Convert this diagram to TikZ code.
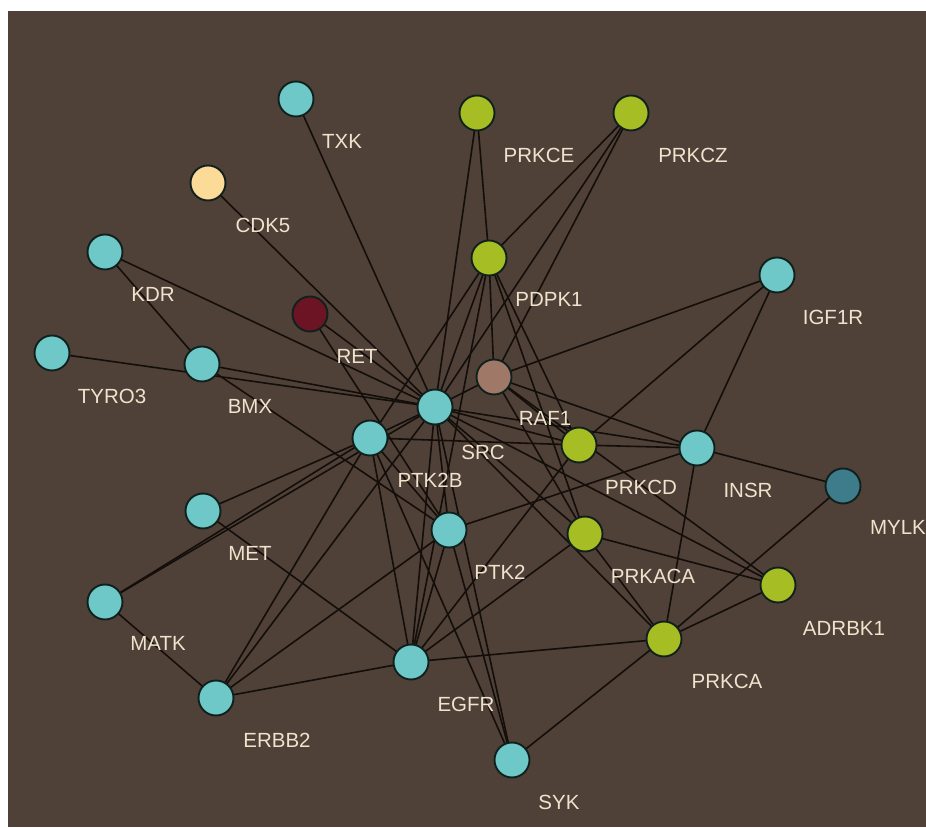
\documentclass[tikz,border=0pt]{standalone}
\usepackage{fontspec}
\setmainfont{Liberation Sans}
\pgfdeclarelayer{bg}
\pgfdeclarelayer{edges}
\pgfsetlayers{bg,edges,main}
\definecolor{bgbrown}{RGB}{79,64,56}
\definecolor{cyanN}{RGB}{110,200,200}
\definecolor{greenN}{RGB}{166,190,36}
\definecolor{creamN}{RGB}{252,218,152}
\definecolor{retN}{RGB}{108,20,36}
\definecolor{rafN}{RGB}{160,120,104}
\definecolor{mylkN}{RGB}{62,124,140}
\definecolor{outlineN}{RGB}{16,32,28}
\definecolor{edgeC}{RGB}{20,14,10}
\definecolor{labelC}{RGB}{238,228,205}
\tikzset{
  gnode/.style={circle, draw=outlineN, line width=1.9pt, minimum size=35pt, inner sep=0pt},
  cy/.style={gnode, fill=cyanN},
  gr/.style={gnode, fill=greenN},
  cr/.style={gnode, fill=creamN},
  rt/.style={gnode, fill=retN},
  rf/.style={gnode, fill=rafN},
  my/.style={gnode, fill=mylkN},
  edge/.style={draw=edgeC, line width=1.6pt},
  lbl/.style={text=labelC, font=\fontsize{20.5}{24}\selectfont, inner sep=0pt, anchor=center}
}
\begin{document}
\begin{tikzpicture}[x=1pt,y=1pt]
\useasboundingbox (0,0) rectangle (926,827);
\begin{pgfonlayer}{bg}
\fill[bgbrown] (8,0) rectangle (926,816);
\end{pgfonlayer}
% nodes
\node[cy] (TXK) at (296,728) {};
\node[cr] (CDK5) at (208,644) {};
\node[cy] (KDR) at (105,575) {};
\node[rt] (RET) at (310,513) {};
\node[cy] (TYRO3) at (52,474) {};
\node[cy] (BMX) at (202,463) {};
\node[cy] (SRC) at (435,420) {};
\node[gr] (PRKCE) at (477,714) {};
\node[gr] (PRKCZ) at (631,714) {};
\node[gr] (PDPK1) at (489,569) {};
\node[cy] (IGF1R) at (777,552) {};
\node[rf] (RAF1) at (494,450) {};
\node[cy] (PTK2B) at (370,389) {};
\node[cy] (MET) at (203,316) {};
\node[cy] (MATK) at (105,225) {};
\node[cy] (ERBB2) at (216,129) {};
\node[cy] (EGFR) at (411,165) {};
\node[cy] (PTK2) at (449,297) {};
\node[gr] (PRKCD) at (579,382) {};
\node[cy] (INSR) at (697,379) {};
\node[my] (MYLK) at (843,341) {};
\node[gr] (PRKACA) at (585,293) {};
\node[gr] (ADRBK1) at (778,242) {};
\node[gr] (PRKCA) at (664,188) {};
\node[cy] (SYK) at (512,67) {};
% edges
\begin{pgfonlayer}{edges}
\foreach \t in {TXK,CDK5,KDR,RET,TYRO3,BMX,PTK2B,PRKCE,PRKCZ,PDPK1,RAF1,PRKCD,INSR,PTK2,EGFR,SYK,MATK,ERBB2,PRKACA,PRKCA,ADRBK1}
  \draw[edge] (SRC.center) -- (\t.center);
\draw[edge] (KDR.center) -- (BMX.center);
\draw[edge] (BMX.center) -- (PTK2.center);
\draw[edge] (RET.center) -- (PTK2.center);
\draw[edge] (MET.center) -- (PTK2B.center);
\draw[edge] (MET.center) -- (EGFR.center);
\draw[edge] (MATK.center) -- (PTK2B.center);
\draw[edge] (MATK.center) -- (ERBB2.center);
\draw[edge] (ERBB2.center) -- (PTK2B.center);
\draw[edge] (ERBB2.center) -- (PTK2.center);
\draw[edge] (ERBB2.center) -- (EGFR.center);
\draw[edge] (PTK2B.center) -- (EGFR.center);
\draw[edge] (PTK2B.center) -- (PTK2.center);
\draw[edge] (PTK2B.center) -- (SYK.center);
\draw[edge] (PTK2B.center) -- (PDPK1.center);
\draw[edge] (PTK2B.center) -- (PRKCD.center);
\draw[edge] (PRKCE.center) -- (PDPK1.center);
\draw[edge] (PRKCZ.center) -- (PDPK1.center);
\draw[edge] (PRKCZ.center) -- (RAF1.center);
\draw[edge] (PDPK1.center) -- (RAF1.center);
\draw[edge] (PDPK1.center) -- (PRKACA.center);
\draw[edge] (PDPK1.center) -- (PRKCD.center);
\draw[edge] (PDPK1.center) -- (EGFR.center);
\draw[edge] (IGF1R.center) -- (RAF1.center);
\draw[edge] (IGF1R.center) -- (PRKCD.center);
\draw[edge] (IGF1R.center) -- (INSR.center);
\draw[edge] (RAF1.center) -- (INSR.center);
\draw[edge] (RAF1.center) -- (PRKCD.center);
\draw[edge] (RAF1.center) -- (PRKACA.center);
\draw[edge] (RAF1.center) -- (ADRBK1.center);
\draw[edge] (PRKCD.center) -- (INSR.center);
\draw[edge] (PRKCD.center) -- (EGFR.center);
\draw[edge] (INSR.center) -- (MYLK.center);
\draw[edge] (INSR.center) -- (PRKCA.center);
\draw[edge] (PTK2.center) -- (INSR.center);
\draw[edge] (PTK2.center) -- (EGFR.center);
\draw[edge] (PTK2.center) -- (SYK.center);
\draw[edge] (PRKACA.center) -- (EGFR.center);
\draw[edge] (PRKACA.center) -- (ADRBK1.center);
\draw[edge] (PRKACA.center) -- (PRKCA.center);
\draw[edge] (PRKCA.center) -- (EGFR.center);
\draw[edge] (PRKCA.center) -- (SYK.center);
\draw[edge] (PRKCA.center) -- (MYLK.center);
\draw[edge] (PRKCA.center) -- (ADRBK1.center);
\end{pgfonlayer}
% labels
\node[lbl] (lTXK) at (342,686) {TXK};
\node[lbl] (lCDK5) at (263,602) {CDK5};
\node[lbl] (lKDR) at (153,533) {KDR};
\node[lbl] (lRET) at (357,471) {RET};
\node[lbl] (lTYRO3) at (112,431) {TYRO3};
\node[lbl] (lBMX) at (250,421) {BMX};
\node[lbl] (lPRKCE) at (539,672) {PRKCE};
\node[lbl] (lPRKCZ) at (693,672) {PRKCZ};
\node[lbl] (lPDPK1) at (549,528) {PDPK1};
\node[lbl] (lIGF1R) at (833,510) {IGF1R};
\node[lbl] (lRAF1) at (545,409) {RAF1};
\node[lbl] (lSRC) at (483,375) {SRC};
\node[lbl] (lPTK2B) at (430,347) {PTK2B};
\node[lbl] (lMET) at (250,274) {MET};
\node[lbl] (lMATK) at (158,184) {MATK};
\node[lbl] (lERBB2) at (277,87) {ERBB2};
\node[lbl] (lEGFR) at (466,123) {EGFR};
\node[lbl] (lPTK2) at (500,255) {PTK2};
\node[lbl] (lPRKCD) at (641,340) {PRKCD};
\node[lbl] (lINSR) at (748,337) {INSR};
\node[lbl] (lMYLK) at (898,300) {MYLK};
\node[lbl] (lPRKACA) at (653,251) {PRKACA};
\node[lbl] (lADRBK1) at (844,199) {ADRBK1};
\node[lbl] (lPRKCA) at (727,146) {PRKCA};
\node[lbl] (lSYK) at (559,25) {SYK};
\end{tikzpicture}
\end{document}
